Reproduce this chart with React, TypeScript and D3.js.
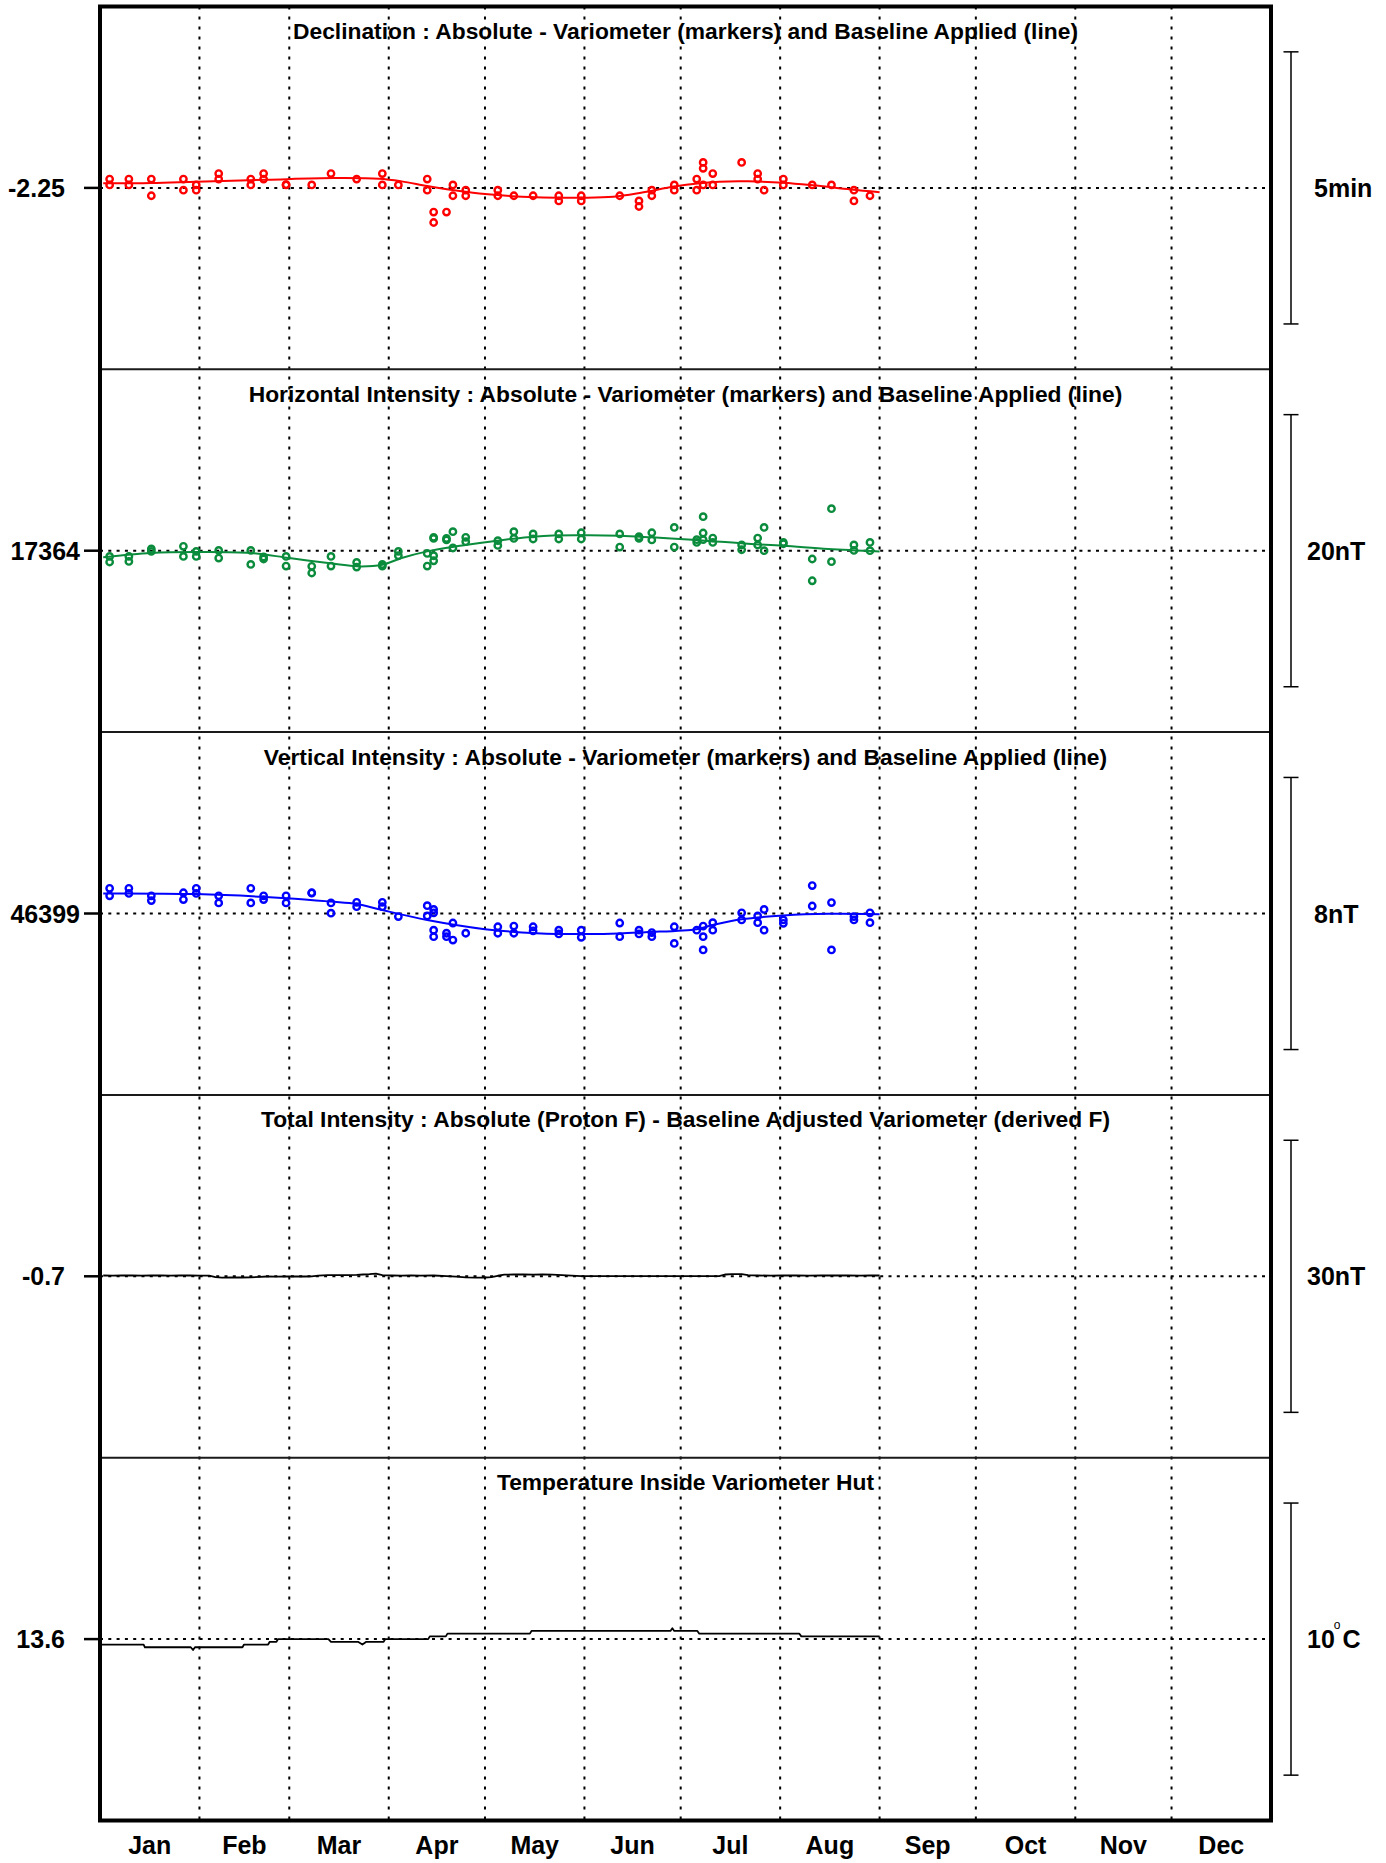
import React from "react";
import * as d3 from "d3";

// ---------------- DATA ----------------
const YEAR = 2015; // non-leap year (365 days)

const monthLabels = ["Jan", "Feb", "Mar", "Apr", "May", "Jun", "Jul", "Aug", "Sep", "Oct", "Nov", "Dec"];

const panelTitles = [
  "Declination : Absolute - Variometer (markers) and Baseline Applied (line)",
  "Horizontal Intensity : Absolute - Variometer (markers) and Baseline Applied (line)",
  "Vertical Intensity : Absolute - Variometer (markers) and Baseline Applied (line)",
  "Total Intensity : Absolute (Proton F) - Baseline Adjusted Variometer (derived F)",
  "Temperature Inside Variometer Hut",
];

const refLabels = ["-2.25", "17364", "46399", "-0.7", "13.6"];
const refValues = [-2.25, 17364, 46399, -0.7, 13.6];
const scaleLabels = ["5min", "20nT", "8nT", "30nT", "10"];
const scaleSpans = [5 / 60, 20, 8, 30, 10]; // in data units (D in degrees)

// [day of year, value]
const declinationObs: [number, number][] = [
  [3, -2.2473], [3, -2.2491], [9, -2.2473], [9, -2.2491], [16, -2.2473], [16, -2.2524],
  [26, -2.2473], [26, -2.2507], [30, -2.2491], [30, -2.2507], [37, -2.2456], [37, -2.2473],
  [47, -2.2473], [47, -2.2491], [51, -2.2456], [51, -2.2473], [58, -2.2491], [58, -2.249],
  [66, -2.2491], [72, -2.2456], [80, -2.2473], [88, -2.2456], [88, -2.2491], [93, -2.2491],
  [102, -2.2473], [102, -2.2507], [104, -2.2574], [104, -2.2606], [108, -2.2574],
  [110, -2.2491], [110, -2.2524], [114, -2.2507], [114, -2.2524], [124, -2.2507], [124, -2.2524],
  [129, -2.2524], [135, -2.2524], [143, -2.2524], [143, -2.254], [150, -2.2524], [150, -2.254],
  [162, -2.2524], [168, -2.254], [168, -2.2557], [172, -2.2507], [172, -2.2524],
  [179, -2.2491], [179, -2.2507], [186, -2.2473], [186, -2.2507],
  [188, -2.2422], [188, -2.244], [188, -2.2491], [191, -2.2456], [191, -2.2491],
  [200, -2.2422], [205, -2.2456], [205, -2.2473], [207, -2.2507], [213, -2.2473], [213, -2.2491],
  [222, -2.2491], [228, -2.2491], [235, -2.2507], [235, -2.254], [240, -2.2524],
];

const declinationBaseline: [number, number][] = [
  [1, -2.2486], [16, -2.2485], [30, -2.2481], [52, -2.2475], [73, -2.247], [87, -2.2472],
  [94, -2.248], [102, -2.2494], [111, -2.2508], [120, -2.2519], [136, -2.2529], [150, -2.253],
  [160, -2.2527], [169, -2.2514], [179, -2.2496], [187, -2.2486], [193, -2.2481], [202, -2.248],
  [213, -2.2484], [223, -2.2493], [234, -2.2505], [243, -2.2513],
];

const horizontalObs: [number, number][] = [
  [3, 17363.58], [3, 17363.17], [9, 17363.58], [9, 17363.21], [16, 17364.13], [16, 17363.95],
  [26, 17364.32], [26, 17363.58], [30, 17363.95], [30, 17363.58], [37, 17364.02], [37, 17363.46],
  [47, 17364.02], [47, 17362.99], [51, 17363.54], [51, 17363.39], [58, 17363.58], [58, 17362.87],
  [66, 17362.85], [66, 17362.36], [72, 17363.58], [72, 17362.87], [80, 17363.14], [80, 17362.8],
  [88, 17362.99], [88, 17362.87], [93, 17363.95], [93, 17363.63], [102, 17363.8], [102, 17362.87],
  [104, 17364.98], [104, 17364.9], [104, 17363.63], [104, 17363.26], [108, 17364.9], [108, 17364.79],
  [110, 17365.4], [110, 17364.2], [114, 17364.98], [114, 17364.66], [124, 17364.74], [124, 17364.39],
  [129, 17365.4], [129, 17364.9], [135, 17365.23], [135, 17364.86], [143, 17365.23], [143, 17364.86],
  [150, 17365.32], [150, 17364.86], [162, 17365.23], [162, 17364.27], [168, 17365.03], [168, 17364.9],
  [172, 17365.32], [172, 17364.79], [179, 17365.71], [179, 17364.27], [186, 17364.81], [186, 17364.61],
  [188, 17366.5], [188, 17365.3], [188, 17364.81], [191, 17364.93], [191, 17364.61],
  [200, 17364.42], [200, 17364.07], [205, 17364.93], [205, 17364.42], [207, 17365.71], [207, 17364.0],
  [213, 17364.61], [213, 17364.51], [222, 17363.39], [222, 17361.79], [228, 17367.09], [228, 17363.19],
  [235, 17364.42], [235, 17364.02], [240, 17364.61], [240, 17364.0],
];

const horizontalBaseline: [number, number][] = [
  [1, 17363.51], [16, 17363.83], [30, 17363.9], [47, 17363.83], [59, 17363.46], [73, 17363.04],
  [80, 17362.85], [88, 17362.97], [94, 17363.46], [102, 17363.95], [111, 17364.32], [122, 17364.68],
  [136, 17365.05], [150, 17365.13], [162, 17365.1], [172, 17364.98], [186, 17364.78], [191, 17364.7],
  [202, 17364.51], [213, 17364.37], [227, 17364.13], [243, 17363.95],
];

const verticalObs: [number, number][] = [
  [3, 46399.74], [3, 46399.52], [9, 46399.74], [9, 46399.59], [16, 46399.52], [16, 46399.38],
  [26, 46399.61], [26, 46399.41], [30, 46399.74], [30, 46399.59], [37, 46399.52], [37, 46399.31],
  [47, 46399.74], [47, 46399.31], [51, 46399.52], [51, 46399.41], [58, 46399.52], [58, 46399.31],
  [66, 46399.61], [66, 46399.6], [72, 46399.31], [72, 46399.01], [80, 46399.33], [80, 46399.2],
  [88, 46399.33], [88, 46399.2], [93, 46398.91], [102, 46399.23], [102, 46398.93],
  [104, 46399.12], [104, 46399.02], [104, 46398.51], [104, 46398.32], [108, 46398.42], [108, 46398.32],
  [110, 46398.72], [110, 46398.22], [114, 46398.42], [124, 46398.61], [124, 46398.42],
  [129, 46398.63], [129, 46398.42], [135, 46398.61], [135, 46398.49], [143, 46398.51], [143, 46398.4],
  [150, 46398.51], [150, 46398.3], [162, 46398.72], [162, 46398.32], [168, 46398.51], [168, 46398.4],
  [172, 46398.44], [172, 46398.32], [179, 46398.61], [179, 46398.12], [186, 46398.51],
  [188, 46398.63], [188, 46398.32], [188, 46397.93], [191, 46398.73], [191, 46398.51],
  [200, 46399.02], [200, 46398.81], [205, 46398.93], [205, 46398.73], [207, 46399.12], [207, 46398.51],
  [213, 46398.81], [213, 46398.71], [222, 46399.82], [222, 46399.22], [228, 46399.32], [228, 46397.93],
  [235, 46398.91], [235, 46398.81], [240, 46399.02], [240, 46398.73],
];

const verticalBaseline: [number, number][] = [
  [1, 46399.59], [30, 46399.57], [58, 46399.45], [72, 46399.35], [80, 46399.28], [88, 46399.1],
  [102, 46398.81], [120, 46398.54], [136, 46398.42], [157, 46398.4], [170, 46398.45], [186, 46398.54],
  [191, 46398.66], [200, 46398.83], [213, 46398.94], [227, 46398.99], [243, 46398.98],
];

const totalFDiff: [number, number][] = [
  [1, -0.61], [4, -0.62], [7, -0.61], [10, -0.61], [13, -0.62], [16, -0.61], [19, -0.61], [22, -0.62],
  [25, -0.61], [28, -0.61], [31, -0.62], [34, -0.62], [36, -0.8], [38, -0.84], [41, -0.83], [44, -0.83],
  [47, -0.82], [50, -0.76], [52, -0.72], [55, -0.73], [58, -0.72], [61, -0.7], [64, -0.72], [66, -0.7],
  [68, -0.62], [71, -0.58], [74, -0.57], [77, -0.56], [80, -0.54], [82, -0.5], [84, -0.47], [86, -0.4],
  [88, -0.58], [91, -0.61], [94, -0.62], [97, -0.61], [100, -0.62], [104, -0.61], [108, -0.68],
  [111, -0.73], [114, -0.82], [117, -0.84], [120, -0.83], [122, -0.8], [124, -0.64], [126, -0.52],
  [129, -0.5], [132, -0.49], [135, -0.51], [138, -0.5], [141, -0.52], [144, -0.58], [147, -0.62],
  [150, -0.67], [154, -0.68], [158, -0.69], [162, -0.68], [166, -0.67], [170, -0.68], [174, -0.69],
  [178, -0.67], [182, -0.68], [186, -0.68], [190, -0.69], [193, -0.67], [195, -0.5], [197, -0.45],
  [200, -0.47], [202, -0.58], [205, -0.61], [209, -0.62], [213, -0.61], [217, -0.61], [221, -0.62],
  [225, -0.61], [229, -0.61], [233, -0.61], [237, -0.62], [240, -0.61], [243, -0.61],
];

const hutTemperature: [number, number][] = [
  [0, 13.4], [13.6, 13.4], [14.0, 13.3], [28.3, 13.3], [29.0, 13.2], [29.6, 13.3], [44.4, 13.3],
  [44.9, 13.4], [52.4, 13.4], [52.9, 13.5], [55.0, 13.5], [55.5, 13.6], [71.2, 13.6], [72.0, 13.5],
  [80.4, 13.5], [81.8, 13.4], [83.0, 13.5], [88.4, 13.5], [88.9, 13.6], [102.3, 13.6], [102.8, 13.7],
  [107.8, 13.7], [108.3, 13.8], [134.0, 13.8], [134.5, 13.9], [177.8, 13.9], [178.4, 14.0],
  [179.0, 13.9], [186.2, 13.9], [186.8, 13.8], [218.0, 13.8], [218.6, 13.7], [243, 13.7],
];

// ---------------- LAYOUT ----------------
const W = 1386;
const H = 1863;
const X0 = 100;
const X1 = 1271;
const TOP = 6.5;
const BOTTOM = 1820.5;
const PH = (BOTTOM - TOP) / 5;
const scaleLabelX = [1314, 1307, 1314, 1307, 1307];
const FONT = "'Liberation Sans', Arial, Helvetica, sans-serif";

const colors = ["#ff0000", "#0b8c3c", "#0000ff", "#000000", "#000000"];
const obsSets: ([number, number][] | null)[] = [declinationObs, horizontalObs, verticalObs, null, null];
const lineSets = [declinationBaseline, horizontalBaseline, verticalBaseline, totalFDiff, hutTemperature];

const t0 = Date.UTC(YEAR, 0, 1);
const doyDate = (d: number) => new Date(t0 + d * 86400000);

export default function App() {
  const x = d3.scaleUtc().domain([new Date(t0), new Date(Date.UTC(YEAR + 1, 0, 1))]).range([X0, X1]);
  const monthStarts = d3.utcMonth.range(new Date(Date.UTC(YEAR, 1, 1)), new Date(Date.UTC(YEAR + 1, 0, 1)));
  const allMonths = d3.utcMonth.range(new Date(t0), new Date(Date.UTC(YEAR + 1, 0, 1)));

  const panels = panelTitles.map((title, i) => {
    const top = TOP + i * PH;
    const ref = refValues[i];
    const span = scaleSpans[i];
    const y = d3.scaleLinear().domain([ref - (span * 2) / 3, ref + (span * 2) / 3]).range([top + PH, top]);
    const smooth = i < 3;
    const line = d3
      .line<[number, number]>()
      .x((d) => x(doyDate(d[0])))
      .y((d) => y(d[1]))
      .curve(smooth ? d3.curveCatmullRom.alpha(0.5) : d3.curveLinear);
    return { i, title, top, center: y(ref), y, span, ref, line, smooth };
  });

  return (
    <svg
      width={W}
      height={H}
      viewBox={`0 0 ${W} ${H}`}
      style={{ position: "absolute", left: 0, top: 0, background: "#fff" }}
      fontFamily={FONT}
    >
      <rect x={0} y={0} width={W} height={H} fill="#fff" />

      {/* vertical month grid lines */}
      {monthStarts.map((m, k) => (
        <line
          key={"vg" + k}
          x1={x(m)}
          x2={x(m)}
          y1={TOP}
          y2={BOTTOM}
          stroke="#000"
          strokeWidth={2}
          strokeDasharray="3 7"
        />
      ))}

      {panels.map((p) => (
        <g key={"p" + p.i}>
          {/* reference dotted line */}
          <line x1={X0} x2={X1} y1={p.center} y2={p.center} stroke="#000" strokeWidth={2} strokeDasharray="3 5.3" />
          {/* title */}
          <text x={(X0 + X1) / 2} y={p.top + 32.5} textAnchor="middle" fontSize={22.8} fontWeight="bold" fill="#000">
            {p.title}
          </text>
          {/* left label + tick */}
          <text
            x={refLabels[p.i].includes(".") ? 65 : 80}
            y={p.center + 9}
            textAnchor="end"
            fontSize={25}
            fontWeight="bold"
            fill="#000"
          >
            {refLabels[p.i]}
          </text>
          <line x1={84} x2={X0} y1={p.center} y2={p.center} stroke="#000" strokeWidth={2.5} />
          {/* scale bar */}
          <g stroke="#000" strokeWidth={1.5}>
            <line x1={1291} x2={1291} y1={p.y(p.ref + p.span / 2)} y2={p.y(p.ref - p.span / 2)} />
            <line x1={1283.5} x2={1298.5} y1={p.y(p.ref + p.span / 2)} y2={p.y(p.ref + p.span / 2)} />
            <line x1={1283.5} x2={1298.5} y1={p.y(p.ref - p.span / 2)} y2={p.y(p.ref - p.span / 2)} />
          </g>
          {p.i < 4 ? (
            <text x={scaleLabelX[p.i]} y={p.center + 9} fontSize={25} fontWeight="bold" fill="#000">
              {scaleLabels[p.i]}
            </text>
          ) : (
            <text x={scaleLabelX[p.i]} y={p.center + 9} fontSize={25} fontWeight="bold" fill="#000">
              {scaleLabels[p.i]}
              <tspan fontSize={12} fontWeight="normal" dx={-1} dy={-19}>
                o
              </tspan>
              <tspan dx={2} dy={19}>
                C
              </tspan>
            </text>
          )}
          {/* data line */}
          <path
            d={p.line(lineSets[p.i]) || ""}
            fill="none"
            stroke={colors[p.i]}
            strokeWidth={p.smooth ? 2 : 1.8}
            strokeLinejoin="round"
          />
          {/* markers */}
          {obsSets[p.i] &&
            obsSets[p.i]!.map((d, k) => (
              <circle
                key={"m" + k}
                cx={x(doyDate(d[0]))}
                cy={p.y(d[1])}
                r={3.2}
                fill="none"
                stroke={colors[p.i]}
                strokeWidth={2.4}
              />
            ))}
        </g>
      ))}

      {/* panel separators */}
      {[1, 2, 3, 4].map((k) => (
        <line key={"sep" + k} x1={X0} x2={X1} y1={TOP + k * PH} y2={TOP + k * PH} stroke="#1a1a1a" strokeWidth={2} />
      ))}

      {/* outer frame */}
      <rect x={X0} y={TOP} width={X1 - X0} height={BOTTOM - TOP} fill="none" stroke="#000" strokeWidth={4} />

      {/* month labels */}
      {allMonths.map((m, k) => {
        const next = d3.utcMonth.offset(m, 1);
        return (
          <text
            key={"ml" + k}
            x={(x(m) + x(next)) / 2}
            y={1854}
            textAnchor="middle"
            fontSize={25}
            fontWeight="bold"
            fill="#000"
          >
            {monthLabels[k]}
          </text>
        );
      })}
    </svg>
  );
}
